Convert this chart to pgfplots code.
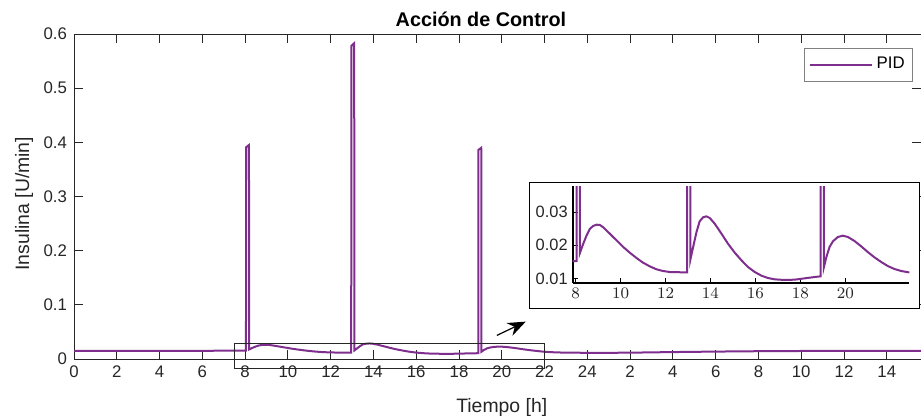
\documentclass[border=0pt]{standalone}
\usepackage{pgfplots}
\pgfplotsset{compat=1.18}
\usepackage{pgfplotstable}
\usetikzlibrary{arrows.meta}
\usepackage{fontspec}
\setmainfont{Liberation Sans}
\definecolor{pidc}{rgb}{0.494,0.184,0.556}
\definecolor{axc}{gray}{0.15}

% insulin control action, t in hours (t > 24 is the next day)
\pgfplotstableread{
t     u
0     0.0150
8.04  0.0153
8.05  0.391
8.18  0.395
8.19  0.0177
8.34  0.0205
8.49  0.0230
8.64  0.0250
8.78  0.0258
8.93  0.0262
9.08  0.0261
9.23  0.0254
9.52  0.0235
9.82  0.0215
10.12 0.0195
10.41 0.0178
10.71 0.0162
11.00 0.0148
11.30 0.0137
11.60 0.0128
11.89 0.0123
12.19 0.0120
12.78 0.0119
12.96 0.0119
12.97 0.578
13.10 0.583
13.11 0.0158
13.23 0.0195
13.38 0.0240
13.52 0.0272
13.67 0.0284
13.82 0.0287
13.97 0.0282
14.19 0.0265
14.49 0.0235
14.78 0.0205
15.08 0.0178
15.38 0.0155
15.67 0.0135
15.97 0.0120
16.27 0.0109
16.56 0.0102
16.86 0.0098
17.30 0.0096
17.75 0.0097
18.19 0.0101
18.64 0.0105
18.90 0.0107
18.91 0.386
19.04 0.390
19.05 0.0135
19.16 0.0165
19.30 0.0195
19.45 0.0212
19.67 0.0225
19.89 0.0229
20.12 0.0225
20.41 0.0213
20.71 0.0197
21.00 0.0180
21.30 0.0164
21.60 0.0150
21.89 0.0138
22.19 0.0129
22.49 0.0123
22.83 0.0119
23.5  0.0116
24.5  0.0113
26.0  0.0117
28.0  0.0128
30.0  0.0137
32.0  0.0144
34.0  0.0148
36.0  0.0150
39.6  0.0150
}\pid

\begin{document}
\begin{tikzpicture}
\useasboundingbox (-37pt,-30pt) rectangle (423.5pt,179.5pt);
\begin{axis}[
  scale only axis, width=423.5pt, height=162.5pt,
  xmin=0, xmax=39.6, ymin=0, ymax=0.6,
  xtick={0,2,...,38},
  xticklabels={0,2,4,6,8,10,12,14,16,18,20,22,24,2,4,6,8,10,12,14},
  ytick={0,0.1,0.2,0.3,0.4,0.5,0.6},
  yticklabels={0,0.1,0.2,0.3,0.4,0.5,0.6},
  tick align=inside, major tick length=4.5pt,
  axis line style={axc, line width=0.5pt}, tick style={axc, line width=0.5pt},
  ticklabel style={font=\fontsize{8.4}{10}\selectfont, text=axc},
  xlabel={Tiempo [h]}, ylabel={Insulina [U/min]},
  label style={font=\fontsize{9.7}{11}\selectfont, text=axc},
  xlabel style={at={(axis description cs:0.505,-0.1477)}, anchor=center},
  ylabel style={at={(axis description cs:-0.059,0.478)}, anchor=center},
  legend style={at={(0.9906,0.957)}, anchor=north east, draw=gray,
    font=\fontsize{8.4}{10}\selectfont, inner xsep=2pt, inner ysep=2.5pt},
  legend image code/.code={\draw[#1] (0pt,0pt) -- (31pt,0pt);},
  clip mode=individual,
]
\addplot[pidc, line width=1pt] table[x=t, y=u] {\pid};
\addlegendentry{PID}
\draw[axc, line width=0.5pt] (axis cs:7.5,-0.018) rectangle (axis cs:22,0.029);
\draw[-{Stealth[length=9pt,width=7pt]}, line width=0.6pt, black]
  (axis cs:19.77,0.0436) -- (axis cs:21.12,0.069);
\node[anchor=base, font=\fontsize{9.9}{11}\selectfont\bfseries]
  at (axis description cs:0.4805,1.0246) {Acción de Control};
\end{axis}

\draw[black, line width=0.5pt, fill=white] (227.5pt,25.5pt) rectangle (422.5pt,88.5pt);

\begin{axis}[
  at={(249.35pt,38pt)}, anchor=south west,
  scale only axis, width=168.3pt, height=48.5pt,
  xmin=7.87, xmax=22.85, ymin=0.0087, ymax=0.0378,
  axis x line*=bottom, axis y line*=left,
  xtick={8,10,...,20}, ytick={0.01,0.02,0.03},
  yticklabels={0.01,0.02,0.03}, scaled y ticks=false,
  tick align=inside, major tick length=2.5pt,
  axis line style={black, line width=0.8pt}, tick style={black, line width=0.4pt},
  ticklabel style={font=\fontsize{8.2}{10}\selectfont, text=axc},
  xticklabel style={yshift=1pt},
  yticklabel style={xshift=1pt},
]
\addplot[pidc, line width=1pt] table[x=t, y=u] {\pid};
\end{axis}
\end{tikzpicture}
\end{document}
